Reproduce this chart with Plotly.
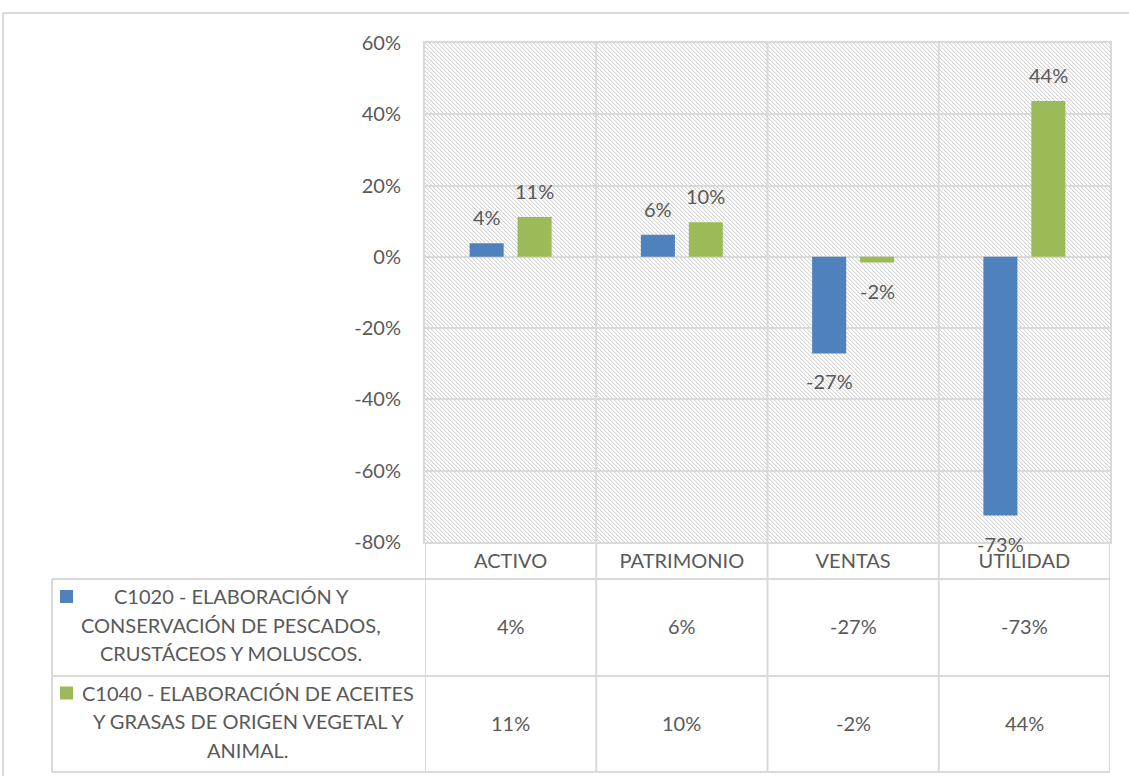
import base64
import plotly.graph_objects as go

# ---------------- data ----------------
categories = ["ACTIVO", "PATRIMONIO", "VENTAS", "UTILIDAD"]
series_names = [
    "C1020 - ELABORACIÓN Y CONSERVACIÓN DE PESCADOS, CRUSTÁCEOS Y MOLUSCOS.",
    "C1040 - ELABORACIÓN DE ACEITES Y GRASAS DE ORIGEN VEGETAL Y ANIMAL.",
]
series_label_lines = [
    ["C1020 - ELABORACIÓN Y", "CONSERVACIÓN DE PESCADOS,", "CRUSTÁCEOS Y MOLUSCOS."],
    ["C1040 - ELABORACIÓN DE ACEITES", "Y GRASAS DE ORIGEN VEGETAL Y", "ANIMAL."],
]
c1020_values = [3.8, 6.2, -27.1, -72.6]
c1040_values = [11.2, 9.7, -1.6, 43.7]
y_ticks = [-80, -60, -40, -20, 0, 20, 40, 60]
y_tick_labels = [f"{v}%" for v in y_ticks]

series_values = [c1020_values, c1040_values]
series_colors = ["#4F81BD", "#9BBB59"]

# ---------------- geometry ----------------
W, H = 1129, 776
def px(x):
    return x / W
def py(y):
    return 1 - y / H

PL, PR, PT, PB = 425, 1110, 43, 542          # plot area (pixels)
ROW_TOP = [579, 676]                          # table rows
TABLE_B = 772
TABLE_L = 52
GRID = "#D9D9D9"
TXT = "#595959"
FONT = "Lato"
FS = 20
BARGAP = 0.44
BARGROUPGAP = 0.29

fig = go.Figure()
for name, vals, col in zip(series_names, series_values, series_colors):
    fig.add_trace(go.Bar(
        x=categories, y=vals, name=name,
        marker=dict(color=col, line=dict(width=0)),
        showlegend=False, hoverinfo="x+y",
    ))

# hatched plot background (svg pattern image)
pw, ph = PR - PL, PB - PT
svg = (
    f'<svg xmlns="http://www.w3.org/2000/svg" width="{pw}" height="{ph}" shape-rendering="crispEdges">'
    '<defs><pattern id="p" width="4" height="4" patternUnits="userSpaceOnUse">'
    '<rect width="4" height="4" fill="#FFFFFF"/>'
    '<rect x="0" y="0" width="1" height="1" fill="#D4D4D4"/>'
    '<rect x="1" y="1" width="1" height="1" fill="#D4D4D4"/>'
    '<rect x="2" y="2" width="1" height="1" fill="#D4D4D4"/>'
    '<rect x="3" y="3" width="1" height="1" fill="#D4D4D4"/>'
    '<rect x="1" y="0" width="1" height="1" fill="#F0F0F0"/>'
    '<rect x="2" y="1" width="1" height="1" fill="#F0F0F0"/>'
    '<rect x="3" y="2" width="1" height="1" fill="#F0F0F0"/>'
    '<rect x="0" y="3" width="1" height="1" fill="#F0F0F0"/>'
    '</pattern></defs>'
    f'<rect width="{pw}" height="{ph}" fill="url(#p)"/></svg>'
)
src = "data:image/svg+xml;base64," + base64.b64encode(svg.encode()).decode()

shapes = []
def line(x0, y0, x1, y1, xref="paper", color=GRID, width=2):
    shapes.append(dict(type="line", xref=xref, yref="paper", x0=x0, y0=y0, x1=x1, y1=y1,
                       line=dict(color=color, width=width), layer="above"))

# outer chart border
line(px(3), py(13), px(1129), py(13))
line(px(3), py(13), px(3), py(776))
# category dividers through plot and table
n = len(categories)
for i in range(n + 1):
    line(i - 0.5, py(TABLE_B), i - 0.5, py(PT if 0 < i < n else PB), xref="x")
# table horizontal lines
for yy in ROW_TOP + [TABLE_B]:
    line(px(TABLE_L), py(yy), px(PR), py(yy))
line(px(TABLE_L), py(ROW_TOP[0]), px(TABLE_L), py(TABLE_B))

annotations = []
# table: legend keys, series labels, values
for s, (lines_, vals, col) in enumerate(zip(series_label_lines, series_values, series_colors)):
    top = ROW_TOP[s]
    bot = ROW_TOP[s + 1] if s + 1 < len(ROW_TOP) else TABLE_B
    cy = (top + bot) / 2
    shapes.append(dict(type="rect", xref="paper", yref="paper",
                       x0=px(60), x1=px(73), y0=py(cy - 37.5), y1=py(cy - 24.5),
                       fillcolor=col, line=dict(width=0)))
    cx = 231 if s == 0 else 248
    for k, t in enumerate(lines_):
        annotations.append(dict(xref="paper", yref="paper", x=px(cx), y=py(cy - 3 + (k - 1) * 28.5),
                                text=t, showarrow=False, xanchor="center", yanchor="middle",
                                font=dict(family=FONT, size=FS, color=TXT)))
    for c, v in zip(categories, vals):
        annotations.append(dict(xref="x", yref="paper", x=c, y=py(cy - 1.5),
                                text=f"{v:.0f}%", showarrow=False, xanchor="center", yanchor="middle",
                                font=dict(family=FONT, size=FS, color=TXT)))

# data labels
half = (1 - BARGAP) / 4
for s, vals in enumerate(series_values):
    off = -half if s == 0 else half
    for i, v in enumerate(vals):
        annotations.append(dict(xref="x", yref="y", x=i + off, y=v,
                                text=f"{v:.0f}%", showarrow=False, xanchor="center",
                                yanchor="bottom" if v >= 0 else "top",
                                yshift=12 if v >= 0 else -14,
                                font=dict(family=FONT, size=FS, color=TXT)))

fig.update_layout(
    width=W, height=H,
    margin=dict(l=0, r=0, t=0, b=0, autoexpand=False),
    paper_bgcolor="white", plot_bgcolor="rgba(0,0,0,0)",
    barmode="group", bargap=BARGAP, bargroupgap=BARGROUPGAP,
    font=dict(family=FONT, size=FS, color=TXT),
    shapes=shapes, annotations=annotations,
    images=[dict(source=src, xref="paper", yref="paper", x=px(PL), y=py(PT),
                 sizex=px(PR) - px(PL), sizey=py(PT) - py(PB),
                 xanchor="left", yanchor="top", sizing="stretch", layer="below")],
    xaxis=dict(domain=[px(PL), px(PR)], type="category", range=[-0.5, n - 0.5], automargin=False,
               showgrid=False, showline=True, linecolor=GRID, linewidth=2, mirror=True,
               ticks="", tickfont=dict(family=FONT, size=FS, color=TXT), ticklabelstandoff=0),
    yaxis=dict(domain=[py(PB), py(PT)], range=[-80, 60], automargin=False,
               tickmode="array", tickvals=y_ticks, ticktext=y_tick_labels,
               showgrid=True, gridcolor=GRID, gridwidth=2,
               zeroline=True, zerolinecolor=GRID, zerolinewidth=2,
               showline=True, linecolor=GRID, linewidth=2, mirror=True,
               ticks="", tickfont=dict(family=FONT, size=FS, color=TXT), ticklabelstandoff=18),
)

fig.write_html("out.html", config={"displayModeBar": False},
               post_script="document.body.style.margin='0px';document.body.style.overflow='hidden';")
